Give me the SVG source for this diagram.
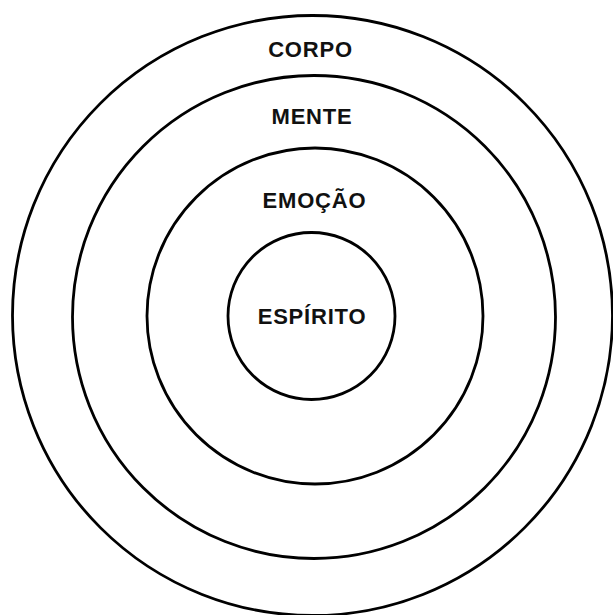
<svg xmlns="http://www.w3.org/2000/svg" width="613" height="615" viewBox="0 0 613 615">
<style>
.ring{fill:none;stroke:#000;stroke-width:2.8}
.lbl{font-family:"Liberation Sans",Arial,sans-serif;font-weight:bold;font-size:22px;letter-spacing:0.8px;text-anchor:middle;fill:#111}
</style>
<rect width="613" height="615" fill="#fff"/>
<g id="corpo">
<circle class="ring" cx="312.5" cy="315.5" r="300"/>
<text class="lbl" x="310.5" y="57">CORPO</text>
</g>
<g id="mente">
<circle class="ring" cx="314" cy="317" r="241.5"/>
<text class="lbl" x="312" y="124">MENTE</text>
</g>
<g id="emocao">
<circle class="ring" cx="315" cy="316" r="168"/>
<text class="lbl" x="314.5" y="208">EMOÇÃO</text>
</g>
<g id="espirito">
<circle class="ring" cx="311.5" cy="316" r="83.5"/>
<text class="lbl" x="312" y="324">ESPÍRITO</text>
</g>
<g id="connectors"></g>
</svg>
